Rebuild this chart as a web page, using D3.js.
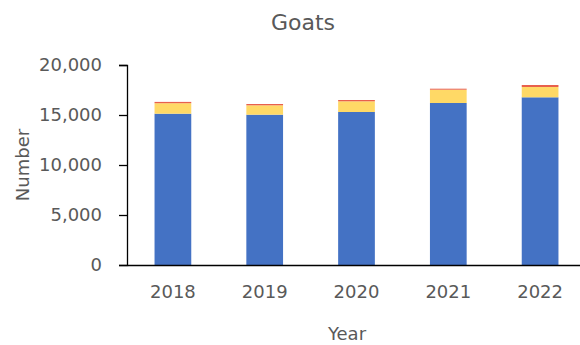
<!DOCTYPE html>
<html>
<head>
<meta charset="utf-8">
<script src="https://cdn.jsdelivr.net/npm/d3@7"></script>
<style>
  html, body { margin: 0; padding: 0; background: #fff; }
  svg { display: block; }
  text { font-family: "DejaVu Sans", sans-serif; fill: #595959; }
</style>
</head>
<body>
<svg id="chart" width="580" height="345"></svg>
<script>
// Goat numbers by year, stacked in three groups
const years = ["2018", "2019", "2020", "2021", "2022"];
const groupMain = [15130, 15030, 15300, 16200, 16770];
const groupSecond = [1050, 940, 1070, 1330, 1030];
const groupThird = [130, 130, 130, 100, 200];
const yTicks = [0, 5000, 10000, 15000, 20000];
const seriesKeys = ["main", "second", "third"];
const seriesColors = ["#4472C4", "#FFD966", "#E8604C"];

const rows = years.map((y, i) => ({
  year: y, main: groupMain[i], second: groupSecond[i], third: groupThird[i]
}));

const svg = d3.select("#chart");
const plot = { left: 127, right: 586, top: 65, bottom: 265 };

const x = d3.scaleBand().domain(years).range([plot.left, plot.right])
  .paddingInner(0.6).paddingOuter(0.3);
const y = d3.scaleLinear().domain([0, 20000]).range([plot.bottom, plot.top]);

const stacked = d3.stack().keys(seriesKeys)(rows);

svg.append("g").selectAll("g")
  .data(stacked)
  .join("g")
  .attr("fill", (d, i) => seriesColors[i])
  .selectAll("rect")
  .data(d => d)
  .join("rect")
  .attr("x", d => x(d.data.year))
  .attr("width", x.bandwidth())
  .attr("y", d => y(d[1]))
  .attr("height", d => y(d[0]) - y(d[1]));

// Y axis
const yAxis = svg.append("g")
  .attr("transform", `translate(${plot.left},0)`)
  .call(d3.axisLeft(y).tickValues(yTicks).tickFormat(d3.format(",")).tickSize(8).tickPadding(17));
yAxis.select(".domain").attr("stroke", "#000").attr("stroke-width", 1.3);
yAxis.selectAll(".tick line").attr("stroke", "#000").attr("stroke-width", 1.3);
yAxis.selectAll("text").style("font-size", "18px").attr("fill", "#595959");

// X axis
const xAxis = svg.append("g")
  .attr("transform", `translate(0,${plot.bottom})`)
  .call(d3.axisBottom(x).tickSize(0).tickPadding(20));
xAxis.select(".domain").attr("stroke", "#000").attr("stroke-width", 1.3);
xAxis.selectAll("text").style("font-size", "18px").attr("fill", "#595959");

// Title and axis titles
svg.append("text").attr("x", 303).attr("y", 30).attr("text-anchor", "middle")
  .style("font-size", "22px").text("Goats");
svg.append("text").attr("x", 347).attr("y", 340).attr("text-anchor", "middle")
  .style("font-size", "18px").text("Year");
svg.append("text").attr("transform", "translate(29,165) rotate(-90)")
  .attr("text-anchor", "middle").style("font-size", "18px").text("Number");
</script>
</body>
</html>
